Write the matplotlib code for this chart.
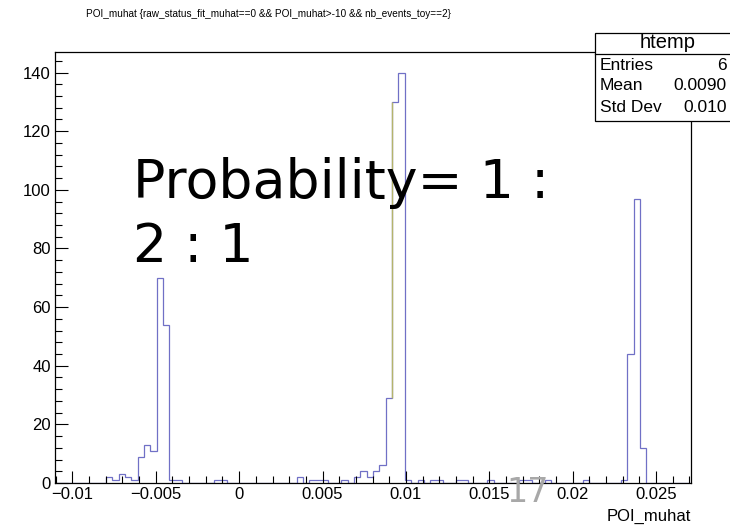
import numpy as np
import matplotlib.pyplot as plt
from matplotlib.ticker import MultipleLocator, FuncFormatter
from matplotlib.patches import Rectangle
from matplotlib.lines import Line2D

# histogram range (100 bins, as TTree::Draw does)
x_min = -0.01104
x_max = 0.02709
n_bins = 100

# bin contents
counts = [0] * n_bins
filled = {
    8: 2, 9: 1, 10: 3, 11: 2, 12: 1, 13: 9, 14: 13, 15: 11, 16: 70, 17: 54,
    18: 1, 19: 1, 25: 1, 26: 1,
    38: 2, 40: 1, 41: 1, 42: 1, 45: 1, 47: 2, 48: 4, 49: 2, 50: 4, 51: 6,
    52: 29, 53: 130, 54: 140, 55: 1, 57: 1, 59: 1, 60: 1, 63: 1, 64: 1,
    68: 1, 73: 1, 74: 1, 77: 1, 83: 1, 89: 1, 90: 44, 91: 97, 92: 12,
}
for k, v in filled.items():
    counts[k] = v

title = "POI_muhat {raw_status_fit_muhat==0 && POI_muhat>-10 && nb_events_toy==2}"
stat_names = ["Entries", "Mean", "Std Dev"]
stat_values = ["6", "0.0090", "0.010"]

plt.rcParams['font.family'] = ['Liberation Sans', 'DejaVu Sans']

W, H = 730, 526
fig = plt.figure(figsize=(7.3, 5.26), dpi=100)
ax = fig.add_axes([55 / W, 1 - 483 / H, (691 - 55) / W, (483 - 52) / H])

edges = np.linspace(x_min, x_max, n_bins + 1)
ax.stairs(counts, edges, color='#7070c6', linewidth=0.9)
# the olive-tinted edge on the left of the central spike
ax.vlines(edges[53], counts[52], counts[53], color='#b4b46c', linewidth=1.0)

ax.set_xlim(x_min, x_max)
ax.set_ylim(0, max(counts) * 1.05)

ax.xaxis.set_major_locator(MultipleLocator(0.005))
ax.xaxis.set_minor_locator(MultipleLocator(0.001))
ax.yaxis.set_major_locator(MultipleLocator(20))
ax.yaxis.set_minor_locator(MultipleLocator(4))
ax.xaxis.set_major_formatter(FuncFormatter(lambda v, p: ("%g" % round(v, 6)).replace("-", "\u2212")))
ax.tick_params(which='both', direction='in', top=False, right=False,
               labelsize=12, width=0.8, colors='black')
ax.tick_params(which='major', length=9, pad=3)
ax.tick_params(which='minor', length=5)
for s in ax.spines.values():
    s.set_linewidth(0.9)

ax.set_xlabel("POI_muhat", loc='right', fontsize=12, labelpad=5)

fig.text(268 / W, 1 - 14 / H, title, ha='center', va='center', fontsize=7.2)

# stats box (cut by the right edge as in the original)
bx0, by0, by1 = 595, 121, 33
fig.add_artist(Rectangle((bx0 / W, 1 - by0 / H), (760 - bx0) / W, (by0 - by1) / H,
                         transform=fig.transFigure, facecolor='white',
                         edgecolor='black', linewidth=0.9, zorder=3))
fig.add_artist(Line2D([bx0 / W, 1.0], [1 - 54 / H, 1 - 54 / H],
                      transform=fig.transFigure, color='black', linewidth=0.9, zorder=4))
fig.text(668 / W, 1 - 43 / H, "htemp", ha='center', va='center', fontsize=14.5, zorder=5)
for i, (n, v) in enumerate(zip(stat_names, stat_values)):
    y = 1 - (65 + 21 * i) / H
    fig.text(600 / W, y, n, ha='left', va='center', fontsize=12.5, zorder=5)
    fig.text(727 / W, y, v, ha='right', va='center', fontsize=12.5, zorder=5)

# slide overlay text
fig.text(133 / W, 1 - 198 / H, "Probability= 1 :", ha='left', va='baseline',
         fontsize=38.7, family='DejaVu Sans', color='black')
fig.text(133 / W, 1 - 262 / H, "2 : 1", ha='left', va='baseline',
         fontsize=38.7, family='DejaVu Sans', color='black')
fig.text(528 / W, 1 - 492 / H, "17", ha='center', va='center',
         fontsize=24, family='DejaVu Sans', color='#a8a8a8')

fig.savefig("out.png", dpi=100)
